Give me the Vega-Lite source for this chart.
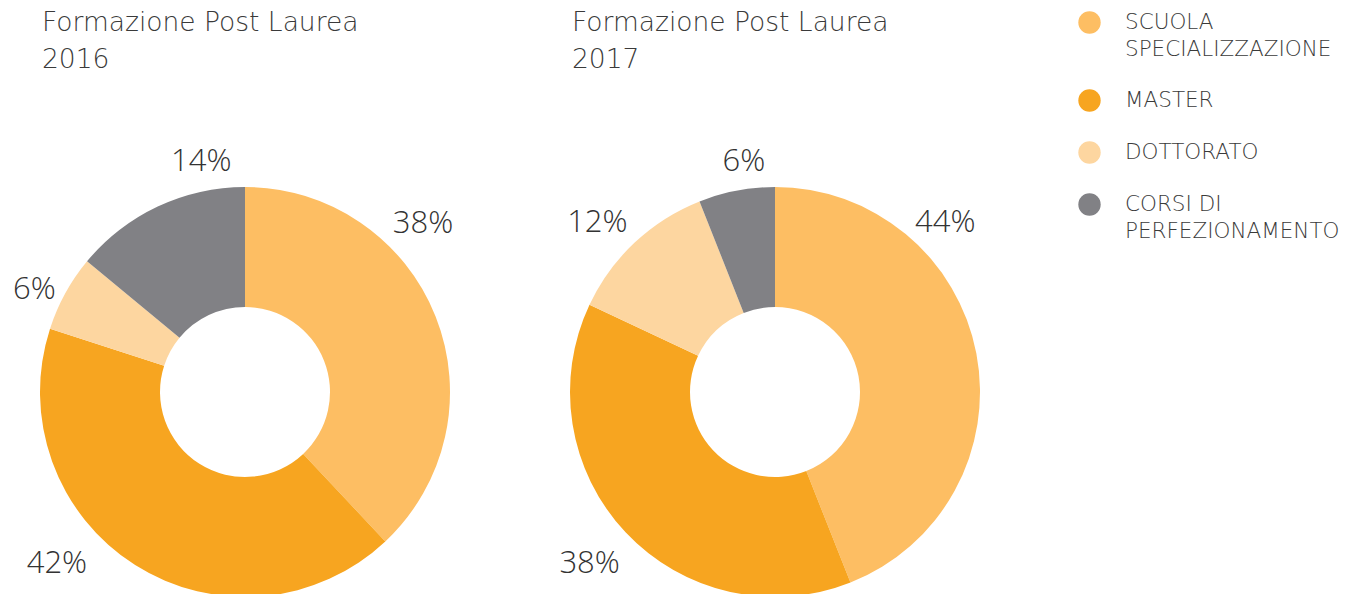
{
  "$schema": "https://vega.github.io/schema/vega-lite/v6.json",
  "padding": {"left": 0, "top": 9, "right": 0, "bottom": 0},
  "background": "white",
  "config": {"view": {"stroke": null}, "font": "Open Sans"},
  "data": {"values": [
    {"anno": 2016, "categoria": "SCUOLA|SPECIALIZZAZIONE", "ordine": 1, "quota": 0.38},
    {"anno": 2016, "categoria": "MASTER", "ordine": 2, "quota": 0.42},
    {"anno": 2016, "categoria": "DOTTORATO", "ordine": 3, "quota": 0.06},
    {"anno": 2016, "categoria": "CORSI DI|PERFEZIONAMENTO", "ordine": 4, "quota": 0.14},
    {"anno": 2017, "categoria": "SCUOLA|SPECIALIZZAZIONE", "ordine": 1, "quota": 0.44},
    {"anno": 2017, "categoria": "MASTER", "ordine": 2, "quota": 0.38},
    {"anno": 2017, "categoria": "DOTTORATO", "ordine": 3, "quota": 0.12},
    {"anno": 2017, "categoria": "CORSI DI|PERFEZIONAMENTO", "ordine": 4, "quota": 0.06}
  ]},
  "spacing": 40,
  "resolve": {"scale": {"theta": "independent", "radius": "independent"}},
  "hconcat": [
    {
      "width": 490, "height": 600,
      "title": {"text": ["Formazione Post Laurea", "2016"], "anchor": "start", "fontSize": 26.5, "font": "DejaVu Sans", "fontWeight": 200, "color": "#3a3a3a", "lineHeight": 37, "offset": 19, "dx": 42},
      "transform": [{"filter": "datum.anno == 2016"}],
      "resolve": {"scale": {"theta": "independent", "radius": "independent"}},
      "layer": [
        {
          "mark": {"type": "arc", "outerRadius": 205, "innerRadius": 85},
          "encoding": {
            "theta": {"field": "quota", "type": "quantitative", "stack": true},
            "order": {"field": "ordine", "type": "quantitative"},
            "color": {"field": "categoria", "type": "nominal",
              "scale": {"domain": ["SCUOLA|SPECIALIZZAZIONE", "MASTER", "DOTTORATO", "CORSI DI|PERFEZIONAMENTO"], "range": ["#FDBE63", "#F7A520", "#FDD6A0", "#818185"]},
              "legend": {"title": null, "orient": "none", "legendX": 1078, "legendY": -81, "padding": 0, "symbolType": "circle", "symbolSize": 500, "symbolStrokeWidth": 0, "labelFontSize": 21.5, "labelFont": "DejaVu Sans", "labelFontWeight": 200, "labelColor": "#3a3a3a", "labelOffset": 24, "labelLimit": 400, "rowPadding": 29, "labelExpr": "split(datum.label, '|')",
                "encode": {"labels": {"update": {"lineHeight": {"value": 27}}}}}
            }
          }
        },
        {
          "mark": {"type": "text", "fontSize": 31, "font": "Open Sans", "fontWeight": 300, "color": "#333333"},
          "encoding": {
            "theta": {"field": "ordine", "type": "quantitative", "scale": {"type": "linear", "domain": [1, 2, 3, 4], "range": [0.813, 3.971, 5.163, 6.095]}},
            "radius": {"field": "ordine", "type": "quantitative", "scale": {"type": "linear", "zero": false, "domain": [1, 2, 3, 4], "range": [245, 255, 234, 234]}},
            "text": {"field": "quota", "type": "quantitative", "format": ".0%"}
          }
        }
      ]
    },
    {
      "width": 490, "height": 600,
      "title": {"text": ["Formazione Post Laurea", "2017"], "anchor": "start", "fontSize": 26.5, "font": "DejaVu Sans", "fontWeight": 200, "color": "#3a3a3a", "lineHeight": 37, "offset": 19, "dx": 42},
      "transform": [{"filter": "datum.anno == 2017"}],
      "resolve": {"scale": {"theta": "independent", "radius": "independent"}},
      "layer": [
        {
          "mark": {"type": "arc", "outerRadius": 205, "innerRadius": 85},
          "encoding": {
            "theta": {"field": "quota", "type": "quantitative", "stack": true},
            "order": {"field": "ordine", "type": "quantitative"},
            "color": {"field": "categoria", "type": "nominal",
              "scale": {"domain": ["SCUOLA|SPECIALIZZAZIONE", "MASTER", "DOTTORATO", "CORSI DI|PERFEZIONAMENTO"], "range": ["#FDBE63", "#F7A520", "#FDD6A0", "#818185"]}
            }
          }
        },
        {
          "mark": {"type": "text", "fontSize": 31, "font": "Open Sans", "fontWeight": 300, "color": "#333333"},
          "encoding": {
            "theta": {"field": "ordine", "type": "quantitative", "scale": {"type": "linear", "domain": [1, 2, 3, 4], "range": [0.789, 3.964, 5.472, 6.149]}},
            "radius": {"field": "ordine", "type": "quantitative", "scale": {"type": "linear", "zero": false, "domain": [1, 2, 3, 4], "range": [240, 253, 245, 232]}},
            "text": {"field": "quota", "type": "quantitative", "format": ".0%"}
          }
        }
      ]
    }
  ]
}
